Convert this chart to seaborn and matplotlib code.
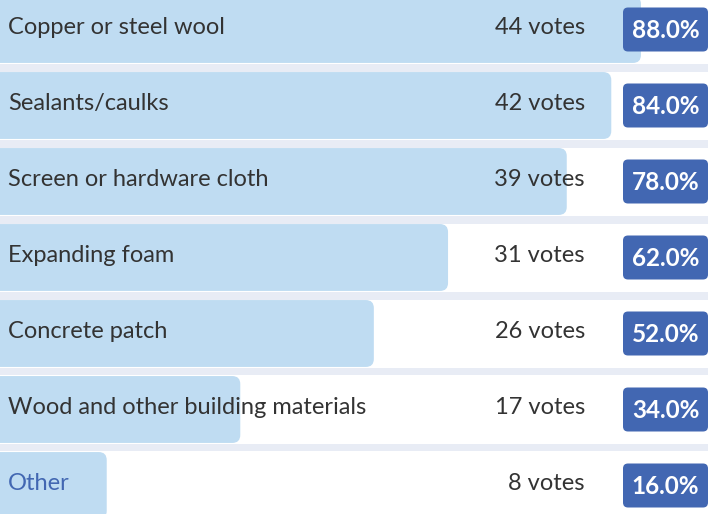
import matplotlib
matplotlib.use("Agg")
import matplotlib.pyplot as plt
import seaborn as sns
import pandas as pd
from matplotlib.patches import FancyBboxPatch

# Poll results
options = [
    "Copper or steel wool",
    "Sealants/caulks",
    "Screen or hardware cloth",
    "Expanding foam",
    "Concrete patch",
    "Wood and other building materials",
    "Other",
]
votes = [44, 42, 39, 31, 26, 17, 8]
percents = [88.0, 84.0, 78.0, 62.0, 52.0, 34.0, 16.0]

BAR = "#BFDCF2"
SEP = "#E8ECF5"
BADGE = "#4267B2"
TEXT = "#333333"

W, H, DPI = 708, 514, 100
SX = 7.42      # pixels per percent
SY = 76.0      # pixels per row
XLIM0 = 12 / SX
XLIM1 = XLIM0 + W / SX
YTOP = -29.5 / SY
YBOT = YTOP + H / SY


def px(xp):
    """Horizontal pixel position to data units."""
    return XLIM0 + xp / SX


sns.set_theme(style="white")
plt.rcParams["font.family"] = ["Lato", "DejaVu Sans"]

fig = plt.figure(figsize=(W / DPI, H / DPI), dpi=DPI)
ax = fig.add_axes([0, 0, 1, 1])

df = pd.DataFrame({"option": options, "percent": percents})
sns.barplot(data=df, x="percent", y="option", orient="h", color=BAR,
            saturation=1, width=0.88, ax=ax)

ax.set_xlim(XLIM0, XLIM1)
ax.set_ylim(YBOT, YTOP)
ax.axis("off")

# swap plain bars for rounded ones
for patch in list(ax.patches):
    x, y = patch.get_x(), patch.get_y()
    w, h = patch.get_width(), patch.get_height()
    patch.remove()
    ax.add_patch(FancyBboxPatch(
        (x, y), w, h,
        boxstyle=f"round,pad=0,rounding_size={8 / SX}",
        mutation_aspect=SX / SY, fc=BAR, ec="none", zorder=2))

# row separators
sep_h = 8 / SY
for i in range(len(options) - 1):
    ax.axhspan(i + 0.5 - sep_h / 2, i + 0.5 + sep_h / 2, color=SEP,
               lw=0, zorder=1)

badge_h = 44 / SY
for i, (name, v, p) in enumerate(zip(options, votes, percents)):
    color = BADGE if name == "Other" else TEXT
    ax.text(px(8), i + 4.5 / SY, name, ha="left", va="baseline",
            fontsize=17, color=color, zorder=3)
    ax.text(px(585), i + 4.5 / SY, f"{v} votes", ha="right", va="baseline",
            fontsize=17, color=TEXT, zorder=3)
    ax.add_patch(FancyBboxPatch(
        (px(623), i - badge_h / 2), px(708) - px(623), badge_h,
        boxstyle=f"round,pad=0,rounding_size={5 / SX}",
        mutation_aspect=SX / SY, fc=BADGE, ec="none", zorder=3))
    ax.text(px(665.5), i + 8.3 / SY, f"{p:.1f}%", ha="center", va="baseline",
            fontsize=17.5, fontweight="bold", color="white", zorder=4)

fig.savefig("out.png", dpi=DPI)
